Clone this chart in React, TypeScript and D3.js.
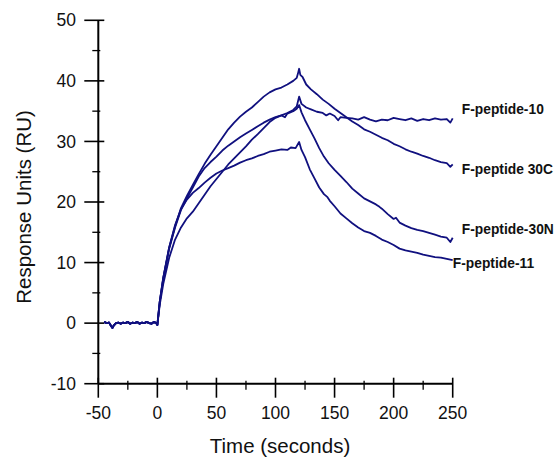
import React from "react";
import * as d3 from "d3";

// shared pre-injection baseline (seconds, RU)
const baseT = [-45, -43, -41, -39, -38, -37, -35, -33, -31, -29, -27, -25, -23, -21, -19, -17, -15, -13, -11, -9, -7, -5, -3, -1, 0];
const baseV = [0.2, 0.0, 0.1, -0.5, -0.8, -0.4, 0.0, 0.1, -0.1, 0.1, 0.0, 0.2, -0.1, 0.1, 0.0, 0.2, -0.1, 0.1, 0.0, 0.2, 0.0, -0.1, 0.2, 0.0, -0.3];

const tC = [2, 5, 10, 15, 20, 25, 30, 35, 40, 45, 50, 55, 60, 65, 70, 75, 80, 85, 90, 95, 100, 105, 110, 115, 118, 119, 120, 121, 123, 126, 130, 135, 140, 145, 150, 155, 160, 165, 170, 175, 180, 185, 190, 195, 200, 205, 210, 215, 220, 225, 230, 235, 240, 245, 248, 250];
const vC = [3.5, 7.5, 12.5, 16, 19, 21, 22.8, 24.6, 26.3, 27.8, 29.2, 30.6, 32, 33.1, 34.1, 34.9, 35.6, 36.5, 37.4, 38.1, 38.6, 38.9, 39.4, 40.0, 40.5, 41.2, 42, 41, 40.6, 39.4, 38.6, 37.8, 36.9, 36.2, 35.4, 34.7, 34, 33.3, 32.7, 32.0, 31.6, 31.1, 30.6, 30.2, 29.6, 29.2, 28.7, 28.3, 28, 27.6, 27.3, 26.9, 26.6, 26.4, 25.8, 26.2];

const t10 = [2, 5, 10, 15, 20, 25, 30, 35, 40, 45, 50, 55, 60, 65, 70, 75, 80, 85, 90, 95, 100, 105, 110, 115, 118, 120, 122, 126, 130, 135, 140, 143, 146, 150, 153, 155, 160, 165, 170, 175, 180, 185, 190, 195, 200, 205, 210, 215, 220, 225, 230, 235, 240, 245, 248, 250];
const v10 = [3.5, 7.3, 12.3, 15.8, 18.7, 20.6, 22.4, 24.2, 25.6, 26.6, 27.5, 28.5, 29.3, 30.0, 30.7, 31.3, 31.9, 32.5, 33.1, 33.6, 34.0, 34.3, 34.7, 35.2, 35.8, 37.4, 36.2, 35.6, 35.3, 34.9, 34.7, 34.3, 34.6, 34.2, 33.5, 34.0, 33.9, 33.8, 33.6, 34.0, 33.6, 33.3, 33.6, 33.5, 33.9, 33.7, 33.5, 33.8, 33.4, 33.7, 33.5, 33.8, 33.6, 33.7, 33.1, 33.8];

const tN = [2, 5, 10, 15, 20, 25, 30, 35, 40, 45, 50, 55, 60, 65, 70, 75, 80, 85, 90, 95, 100, 105, 108, 110, 115, 118, 120, 122, 125, 129, 133, 137, 141, 145, 150, 155, 160, 165, 170, 175, 180, 185, 188, 190, 195, 200, 202, 205, 210, 215, 220, 225, 230, 235, 240, 245, 248, 250];
const vN = [3, 6.5, 10.8, 13.8, 15.8, 17.3, 18.4, 19.8, 21.2, 22.6, 23.8, 25.0, 26.2, 27.2, 28.2, 29.2, 30.3, 31.2, 32.2, 33.2, 33.9, 34.3, 34.0, 34.6, 35.0, 35.4, 36.0, 34.8, 33.5, 32, 30.5, 28.9, 27.5, 26.4, 25.3, 24.3, 23.3, 22.2, 21.4, 20.6, 20.1, 19.6, 19.2, 18.9, 18.0, 17.2, 17.4, 16.6, 16.1, 15.7, 15.4, 15.2, 14.9, 14.6, 14.3, 14.1, 13.4, 14.1];

const t11 = [2, 5, 10, 15, 20, 25, 30, 35, 40, 45, 50, 55, 60, 65, 70, 75, 80, 85, 90, 95, 100, 105, 110, 113, 117, 120, 122, 125, 129, 133, 137, 141, 144, 146, 150, 155, 160, 165, 170, 175, 180, 185, 190, 195, 200, 205, 210, 215, 220, 225, 230, 235, 240, 245, 250];
const v11 = [3.5, 7.5, 12.5, 16.2, 18.8, 20.4, 21.5, 22.3, 23.2, 24.0, 24.7, 25.2, 25.6, 26.0, 26.5, 26.9, 27.2, 27.6, 27.9, 28.3, 28.5, 28.7, 28.6, 29.0, 28.9, 29.9, 28.6, 27.4, 25.4, 23.9, 22.4, 21.3, 20.8, 20.2, 19.3, 18.1, 17.3, 16.5, 15.8, 15.2, 14.9, 14.4, 13.8, 13.4, 12.9, 12.3, 12.0, 11.8, 11.6, 11.3, 11.1, 10.9, 10.8, 10.6, 10.4];

const seriesNames = ["F-peptide-10", "F-peptide 30C", "F-peptide-30N", "F-peptide-11"];
const seriesT = [t10, tC, tN, t11];
const seriesV = [v10, vC, vN, v11];
// label anchors in data units
const labelT = [257.7, 257.7, 257.7, 250.1];
const labelV = [35.4, 25.5, 15.5, 10.0];

const xMajor = [-50, 0, 50, 100, 150, 200, 250];
const xMinor = [-25, 25, 75, 125, 175, 225];
const yMajor = [-10, 0, 10, 20, 30, 40, 50];
const yMinor = [-5, 5, 15, 25, 35, 45];

const W = 556;
const H = 457;
const lineColor = "#10107f";
const font = "Liberation Sans, Arial, sans-serif";

export default function App() {
  const x = d3.scaleLinear().domain([-50, 250]).range([98.3, 452.7]);
  const y = d3.scaleLinear().domain([-10, 50]).range([383.7, 20.3]);

  const line = d3.line<[number, number]>()
    .x(d => x(d[0]))
    .y(d => y(d[1]));

  const paths = seriesT.map((ts, i) => {
    const pts: [number, number][] = baseT.map((t, j) => [t, baseV[j]] as [number, number])
      .concat(ts.map((t, j) => [t, seriesV[i][j]] as [number, number]));
    return line(pts);
  });

  const x0 = x(-50);
  const y0 = y(-10);

  return (
    <svg width={W} height={H} style={{ position: "absolute", left: 0, top: 0 }} fontFamily={font}>
      <rect width={W} height={H} fill="#fff" />

      {/* y axis */}
      <line x1={x0} x2={x0} y1={y(50)} y2={y0} stroke="#000" strokeWidth={2} />
      {yMajor.map(v => (
        <g key={"ym" + v}>
          <line x1={x0 - 14} x2={x0 + 6} y1={y(v)} y2={y(v)} stroke="#000" strokeWidth={1.6} />
          <text x={76} y={y(v)} dy="0.35em" textAnchor="end" fontSize={17.5} fill="#111">{v}</text>
        </g>
      ))}
      {yMinor.map(v => (
        <line key={"yn" + v} x1={x0 - 6} x2={x0 + 2} y1={y(v)} y2={y(v)} stroke="#000" strokeWidth={1.3} />
      ))}

      {/* x axis */}
      <line x1={x0} x2={x(250)} y1={y0} y2={y0} stroke="#000" strokeWidth={2} />
      {xMajor.map(v => (
        <g key={"xm" + v}>
          <line x1={x(v)} x2={x(v)} y1={y0 - 6} y2={y0 + 14} stroke="#000" strokeWidth={1.6} />
          <text x={x(v)} y={419} textAnchor="middle" fontSize={17.5} fill="#111">{v}</text>
        </g>
      ))}
      {xMinor.map(v => (
        <line key={"xn" + v} x1={x(v)} x2={x(v)} y1={y0 - 3} y2={y0 + 6} stroke="#000" strokeWidth={1.3} />
      ))}

      {/* axis titles */}
      <text transform={`translate(31, ${207}) rotate(-90)`} textAnchor="middle" fontSize={20.5} fill="#111">Response Units (RU)</text>
      <text x={280} y={453} textAnchor="middle" fontSize={20.5} fill="#111">Time (seconds)</text>

      {/* sensorgrams */}
      {paths.map((p, i) => (
        <path key={"p" + i} d={p || ""} fill="none" stroke={lineColor} strokeWidth={1.8} strokeLinejoin="round" />
      ))}

      {seriesNames.map((n, i) => (
        <text key={"l" + i} x={x(labelT[i])} y={y(labelV[i])} dy="0.36em" fontSize={13.8} fontWeight="bold" fill="#111">{n}</text>
      ))}
    </svg>
  );
}
